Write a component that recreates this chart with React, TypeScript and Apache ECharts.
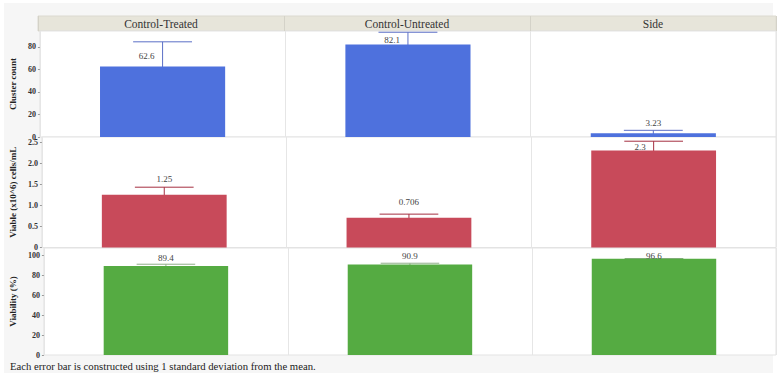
import React, { useEffect, useRef } from "react";
import * as echarts from "echarts";

const categories = ["Control-Treated", "Control-Untreated", "Side"];
const clusterMean = [62.6, 82.1, 3.23];
const clusterSD = [21.8, 10.8, 2.7];
const viableMean = [1.25, 0.706, 2.3];
const viableSD = [0.18, 0.085, 0.22];
const viabilityMean = [89.4, 90.9, 96.6];
const viabilitySD = [1.8, 1.3, 0.35];
const footnote = "Each error bar is constructed using 1 standard deviation from the mean.";

const SERIF = "Liberation Serif";

type Panel = {
  name: string;
  mean: number[];
  sd: number[];
  max: number;
  interval: number;
  decimals: number;
  color: string;
  errColor: string;
  top: number;
  height: number;
  labelOffset: number;
  labelClamp: number;
};

const panels: Panel[] = [
  { name: "Cluster count", mean: clusterMean, sd: clusterSD, max: 94, interval: 20, decimals: 0, color: "#4e71dd", errColor: "#5b6fc6", top: 31, height: 106, labelOffset: 10, labelClamp: 9 },
  { name: "Viable (x10^6) cells/mL", mean: viableMean, sd: viableSD, max: 2.62, interval: 0.5, decimals: 1, color: "#c84a5a", errColor: "#a52f40", top: 137, height: 110.5, labelOffset: 16, labelClamp: 9.5 },
  { name: "Viability (%)", mean: viabilityMean, sd: viabilitySD, max: 107.5, interval: 20, decimals: 0, color: "#55ab42", errColor: "#8fae88", top: 248, height: 107, labelOffset: 8.5, labelClamp: 7.5 },
];

const LEFT = 38;
const RIGHT = 4;

export default function App() {
  const ref = useRef<HTMLDivElement>(null);
  useEffect(() => {
    if (!ref.current) return;
    const chart = echarts.init(ref.current, undefined, { renderer: "svg" });

    const grids: any[] = [];
    const xAxes: any[] = [];
    const yAxes: any[] = [];
    const series: any[] = [];

    grids.push({ left: LEFT, right: RIGHT, top: 16, height: 15, show: true, backgroundColor: "#e7e5da", borderColor: "#dcdad0", borderWidth: 1 });
    xAxes.push({
      type: "category", gridIndex: 0, data: categories,
      axisLine: { show: false }, axisTick: { show: false },
      splitLine: { show: true, lineStyle: { color: "#d4d2c8", width: 1 } },
      axisLabel: { margin: -7.5, verticalAlign: "middle", fontFamily: SERIF, fontSize: 11.5, color: "#333" },
    });
    yAxes.push({ type: "value", gridIndex: 0, show: false, min: 0, max: 1 });

    panels.forEach((p, k) => {
      const gi = k + 1;
      grids.push({ left: LEFT, right: RIGHT, top: p.top, height: p.height, show: true, backgroundColor: "#ffffff", borderColor: "#e3e3e3", borderWidth: 1 });
      xAxes.push({
        type: "category", gridIndex: gi, data: categories,
        axisLine: { show: false }, axisTick: { show: false }, axisLabel: { show: false },
        splitLine: { show: true, lineStyle: { color: "#e6e6e6", width: 1 } },
      });
      yAxes.push({
        type: "value", gridIndex: gi, min: 0, max: p.max, interval: p.interval,
        name: p.name, nameLocation: "middle", nameGap: 18,
        nameTextStyle: { fontFamily: SERIF, fontSize: 9, fontWeight: "bold", color: "#222" },
        axisLine: { show: false },
        axisTick: { show: true, length: 2, lineStyle: { color: "#999" } },
        splitLine: { show: false },
        axisLabel: {
          showMaxLabel: false, margin: 4, fontFamily: SERIF, fontSize: 8, fontWeight: "bold", color: "#333",
          formatter: (v: number) => (v === 0 ? "0" : v.toFixed(p.decimals)),
        },
      });
      series.push({
        type: "bar", xAxisIndex: gi, yAxisIndex: gi, data: p.mean, barWidth: "51%",
        itemStyle: { color: p.color }, silent: true,
      });
      const errData = p.mean.map((m, i) => [i, m - p.sd[i], m + p.sd[i], m, Number(m.toPrecision(3)).toString()]);
      series.push({
        type: "custom", xAxisIndex: gi, yAxisIndex: gi, data: errData, silent: true, clip: false,
        renderItem: (params: any, api: any) => {
          const i = api.value(0);
          const lo = api.coord([i, api.value(1)]);
          const hi = api.coord([i, api.value(2)]);
          const mid = api.coord([i, api.value(3)]);
          const bandW = api.size([1, 0])[0];
          const half = bandW * 0.12;
          const ly = Math.max(mid[1] - p.labelOffset, p.top + p.labelClamp);
          const shifted = ly > hi[1] - 2;
          const text = errData[params.dataIndex][4];
          const ls = { stroke: p.errColor, lineWidth: 1 };
          return {
            type: "group",
            children: [
              { type: "line", shape: { x1: hi[0], y1: hi[1], x2: lo[0], y2: lo[1] }, style: ls },
              { type: "line", shape: { x1: hi[0] - half, y1: hi[1], x2: hi[0] + half, y2: hi[1] }, style: ls },
              { type: "line", shape: { x1: lo[0] - half, y1: lo[1], x2: lo[0] + half, y2: lo[1] }, style: ls },
              {
                type: "text", x: shifted ? mid[0] - 8 : mid[0], y: ly,
                style: { text, fontFamily: SERIF, fontSize: 9, fill: "#444", align: shifted ? "right" : "center", verticalAlign: "middle" },
              },
            ],
          };
        },
      });
    });

    chart.setOption({
      animation: false,
      backgroundColor: "#ffffff",
      textStyle: { fontFamily: SERIF },
      grid: grids,
      xAxis: xAxes,
      yAxis: yAxes,
      series,
      graphic: [
        { type: "rect", z: -10, silent: true, shape: { x: 4, y: 3, width: 769, height: 370 }, style: { fill: "#f6f6f6" } },
        { type: "text", left: 10, top: 360, style: { text: footnote, fontFamily: SERIF, fontSize: 10.7, fill: "#222" } },
      ],
    });
    return () => chart.dispose();
  }, []);
  return <div ref={ref} style={{ width: 780, height: 377, position: "absolute", left: 0, top: 0 }} />;
}
